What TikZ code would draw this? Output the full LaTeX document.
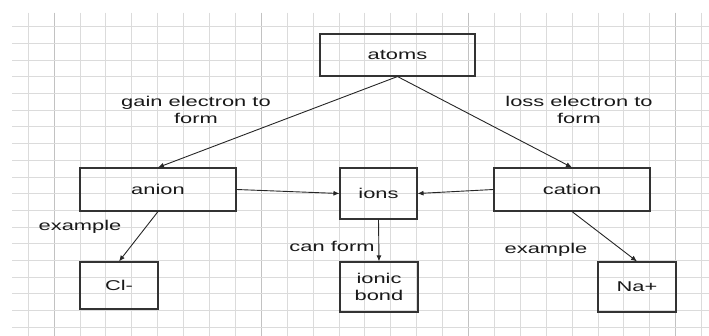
\documentclass[tikz,border=0pt]{standalone}
\usepackage{fontspec}
\setmainfont[FakeStretch=1.54]{Liberation Sans}
\usetikzlibrary{arrows.meta}

\tikzset{
  box/.style={draw=black!80, line width=1.1pt, align=center, text=black!90, inner sep=0pt},
  lbl/.style={align=center, text=black!90, inner sep=0pt},
  arr/.style={draw=black!85, line width=0.9pt, -{Latex[length=6pt,width=5pt]}},
  gridline/.style={draw=black!14, line width=0.7pt},
  gridbold/.style={draw=black!24, line width=0.8pt},
}

\begin{document}
\begin{tikzpicture}[x=1pt, y=-1pt, font=\fontsize{14.2}{17}\selectfont]
    \useasboundingbox (0,0) rectangle (709,336);
    % squared paper behind the map
    \foreach \k in {1,...,27}
        \draw[gridline] ({2.2+25.9*\k},12.7) -- ({2.2+25.9*\k},336);
    \foreach \k in {2,10,18,26}
        \draw[gridbold] ({2.2+25.9*\k},12.7) -- ({2.2+25.9*\k},336);
    \foreach \k in {0,...,18}
        \draw[gridline] (12,{26.6+16.7*\k}) -- (709,{26.6+16.7*\k});

    % concept boxes
    \node[box, minimum width=155pt, minimum height=42pt] (atoms)  at (397.5,55)  {atoms};
    \node[box, minimum width=156pt, minimum height=43pt] (anion)  at (158,189.5) {anion};
    \node[box, minimum width=77pt,  minimum height=51pt] (ions)   at (378.5,193.5) {ions};
    \node[box, minimum width=156pt, minimum height=43pt] (cation) at (572,189.5) {cation};
    \node[box, minimum width=78pt,  minimum height=47pt] (cl)     at (119,285.5) {Cl-};
    \node[box, minimum width=78pt,  minimum height=50pt] (bond)   at (379,287)   {ionic\\bond};
    \node[box, minimum width=78pt,  minimum height=50pt] (na)     at (637,287)   {Na+};

    % link words
    \node[lbl] (gain)  at (196,110) {gain electron to\\form};
    \node[lbl] (loss)  at (579,110) {loss electron to\\form};
    \node[lbl] (exl)   at (80,227)  {example};
    \node[lbl] (can)   at (332,246) {can form};
    \node[lbl] (exr)   at (546,250) {example};

    % links
    \draw[arr] (atoms.south) -- (anion.north);
    \draw[arr] (atoms.south) -- (cation.north);
    \draw[arr] (anion.east) -- (ions.west);
    \draw[arr] (cation.west) -- (ions.east);
    \draw[arr] (anion.south) -- (cl.north);
    \draw[arr] (ions.south) -- (bond.north);
    \draw[arr] (cation.south) -- (na.north);
\end{tikzpicture}
\end{document}
